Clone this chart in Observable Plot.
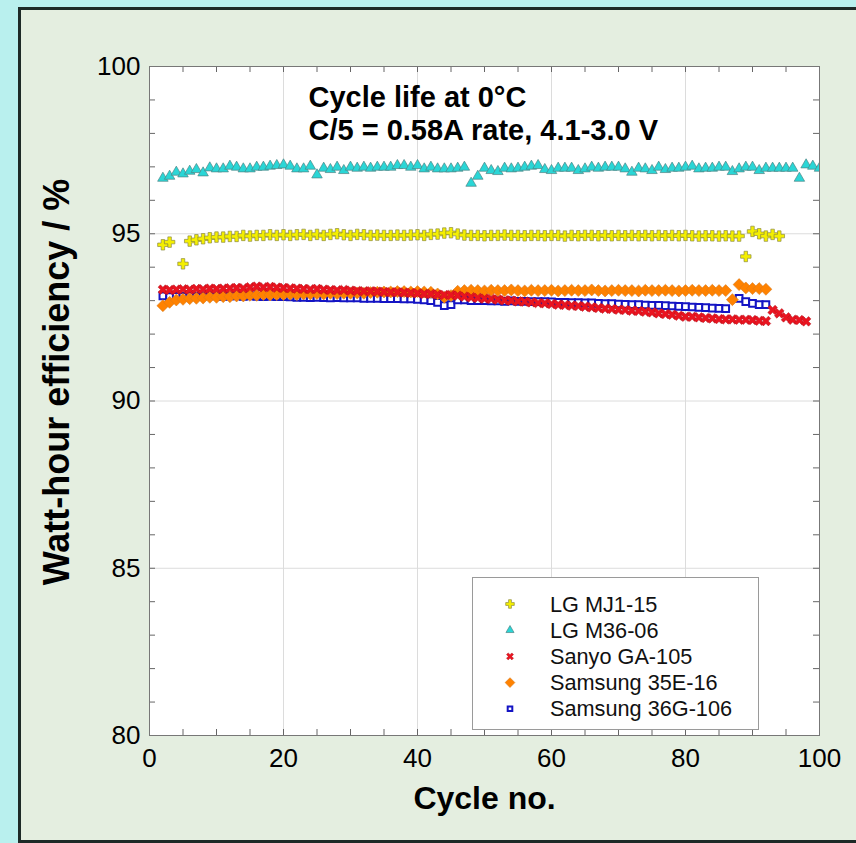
<!DOCTYPE html>
<html>
<head>
<meta charset="utf-8">
<script src="https://cdn.jsdelivr.net/npm/d3@7"></script>
<script src="https://cdn.jsdelivr.net/npm/@observablehq/plot@0.6"></script>
<style>
  html, body { margin: 0; padding: 0; }
  body {
    width: 856px; height: 843px; overflow: hidden; position: relative;
    background: #b9f0ee;
    font-family: "Liberation Sans", Arial, Helvetica, sans-serif;
  }
  #panel {
    position: absolute; left: 18px; top: 7px; width: 860px; height: 830px;
    background: #e4eee0; border: 3px solid #1d2a27;
  }
  #chart { position: absolute; left: 0; top: 0; }
  #legend { position: absolute; left: 472px; top: 577px; }
</style>
</head>
<body>
<div id="panel"></div>
<div id="chart"></div>
<div id="legend"></div>
<script>
// Cycle numbers 2..100; null where a cell has no reading for that cycle
const cycleNo = [
  2,3,4,5,6,7,8,9,10,11,12,13,14,15,16,17,18,19,20,21,22,23,24,25,26,27,28,29,30,31,
  32,33,34,35,36,37,38,39,40,41,42,43,44,45,46,47,48,49,50,51,52,53,54,55,56,57,58,59,60,61,
  62,63,64,65,66,67,68,69,70,71,72,73,74,75,76,77,78,79,80,81,82,83,84,85,86,87,88,89,90,91,
  92,93,94,95,96,97,98,99,100
];

// Watt-hour efficiency (%) per cycle
const lgMJ1_15 = [
  94.67,94.75,null,94.10,94.78,94.82,94.85,94.88,94.90,94.90,94.92,94.92,94.95,94.93,94.95,94.95,94.97,94.95,94.97,94.95,
  94.97,94.98,94.95,94.98,94.95,94.98,95.00,94.97,94.95,94.98,94.97,94.95,94.96,94.95,94.95,94.96,94.95,94.96,94.97,94.95,
  94.98,94.99,95.02,95.03,94.99,94.96,94.95,94.95,94.94,94.95,94.95,94.96,94.95,94.95,94.94,94.95,94.95,94.94,94.95,94.95,
  94.93,94.95,94.94,94.95,94.95,94.94,94.95,94.94,94.95,94.94,94.95,94.94,94.95,94.94,94.95,94.94,94.95,94.94,94.95,94.94,
  94.93,94.94,94.94,94.93,94.94,94.93,94.93,94.32,95.07,95.00,94.93,94.98,94.93,null,null,null,null,null,null
];
const lgM36_06 = [
  96.66,96.72,96.84,96.79,96.87,96.92,96.82,96.97,96.94,96.94,97.02,96.99,96.94,96.94,96.99,96.99,97.02,97.04,97.06,97.02,
  96.94,96.94,97.02,96.76,96.96,96.92,96.99,96.89,96.99,96.96,96.99,96.96,96.99,96.99,96.99,97.04,97.04,96.99,97.04,96.94,
  96.99,96.94,96.94,96.94,96.96,96.99,96.51,96.72,96.96,96.89,96.86,96.96,96.94,96.96,96.99,97.02,97.04,96.92,96.89,96.96,
  96.96,96.96,96.89,96.94,96.99,96.96,96.99,96.99,96.99,96.94,96.84,96.96,96.94,96.89,96.99,96.92,96.96,96.96,96.99,97.02,
  96.94,96.96,96.96,96.99,96.99,96.86,96.94,96.99,96.99,96.89,96.96,96.96,96.96,96.96,96.96,96.66,97.06,97.02,96.96
];
const sanyoGA105 = [
  93.33,93.32,93.33,93.34,93.33,93.35,93.34,93.36,93.35,93.36,93.37,93.38,93.37,93.40,93.42,93.40,93.41,93.39,93.38,93.37,
  93.36,93.35,93.34,93.35,93.33,93.32,93.31,93.32,93.30,93.29,93.28,93.28,93.27,93.26,93.25,93.25,93.24,93.23,93.22,93.20,
  93.20,93.18,93.17,93.17,93.15,93.12,93.10,93.08,93.06,93.05,93.03,93.01,93.00,92.98,92.97,92.95,92.93,92.92,92.90,92.88,
  92.87,92.85,92.84,92.82,92.80,92.78,92.76,92.75,92.73,92.72,92.70,92.69,92.67,92.65,92.62,92.60,92.58,92.55,92.52,92.52,
  92.50,92.48,92.47,92.45,92.44,92.44,92.43,92.43,92.42,92.40,92.39,92.72,92.62,92.50,92.43,92.42,92.38,null,null
];
const samsung35E_16 = [
  92.85,92.95,93.02,93.04,93.06,93.07,93.08,93.10,93.10,93.12,93.12,93.14,93.14,93.16,93.16,93.18,93.17,93.18,93.18,93.19,
  93.18,93.20,93.20,93.21,93.20,93.22,93.21,93.22,93.22,93.23,93.22,93.24,93.25,93.26,93.26,93.27,93.27,93.26,93.27,93.26,
  93.25,93.20,93.10,93.15,93.28,93.30,93.31,93.30,93.29,93.31,93.30,93.30,93.32,93.30,93.29,93.31,93.30,93.30,93.31,93.29,
  93.30,93.31,93.30,93.30,93.32,93.30,93.29,93.30,93.31,93.30,93.30,93.29,93.31,93.30,93.30,93.31,93.30,93.29,93.30,93.31,
  93.30,93.30,93.31,93.30,93.30,93.03,93.48,93.38,93.36,93.36,93.34,null,null,null,null,null,null,null,null
];
const samsung36G_106 = [
  93.14,93.12,93.13,93.13,93.14,93.13,93.14,93.15,93.14,93.13,93.14,93.14,93.13,93.14,93.13,93.12,93.13,93.12,93.12,93.11,
  93.10,93.10,93.09,93.10,93.09,93.08,93.09,93.08,93.08,93.08,93.07,93.07,93.07,93.06,93.06,93.06,93.05,93.05,93.04,93.02,
  93.00,92.95,92.85,92.88,93.02,93.02,93.00,93.00,93.00,92.99,92.99,92.98,92.99,92.98,92.98,92.97,92.97,92.97,92.96,92.95,
  92.95,92.94,92.94,92.93,92.93,92.92,92.91,92.91,92.90,92.89,92.88,92.88,92.87,92.86,92.86,92.85,92.84,92.83,92.82,92.81,
  92.80,92.79,92.78,92.77,92.76,null,93.07,92.97,92.92,92.88,92.88,null,null,null,null,null,null,null,null
];

const seriesNames = ["LG MJ1-15", "LG M36-06", "Sanyo GA-105", "Samsung 35E-16", "Samsung 36G-106"];
const titleLines = ["Cycle life at 0°C", "C/5 = 0.58A rate, 4.1-3.0 V"];
const xTitle = "Cycle no.";
const yTitle = "Watt-hour efficiency / %";
const xTickLabels = [0, 20, 40, 60, 80, 100];
const yTickLabels = [80, 85, 90, 95, 100];
const xMinorTicks = [0,5,10,15,20,25,30,35,40,45,50,55,60,65,70,75,80,85,90,95,100];
const yMinorTicks = [80,81,82,83,84,85,86,87,88,89,90,91,92,93,94,95,96,97,98,99,100];

// Filled "x" marker: a plus sign turned by 45 degrees
const symbolX = {
  draw(context, size) {
    const a = Math.sqrt(size) * 0.62, t = a * 0.32;
    const pts = [[-t,-a],[t,-a],[t,-t],[a,-t],[a,t],[t,t],[t,a],[-t,a],[-t,t],[-a,t],[-a,-t],[-t,-t]];
    const c = Math.SQRT1_2;
    pts.forEach(([x, y], i) => {
      const rx = (x - y) * c, ry = (x + y) * c;
      i ? context.lineTo(rx, ry) : context.moveTo(rx, ry);
    });
    context.closePath();
  }
};

const styles = {
  "LG MJ1-15":       {symbol: d3.symbolCross,    r: 4.4, fill: "#f4ef00", stroke: "#8d8b45", strokeWidth: 0.7},
  "LG M36-06":       {symbol: d3.symbolTriangle, r: 3.9, fill: "#2ad6d6", stroke: "#4d8585", strokeWidth: 0.7},
  "Sanyo GA-105":    {symbol: symbolX,           r: 4.7, fill: "#ea1420", stroke: "#b0101a", strokeWidth: 0.5},
  "Samsung 35E-16":  {symbol: d3.symbolDiamond2, r: 5.4, fill: "#ff8200", stroke: "#d97a1c", strokeWidth: 0.6},
  "Samsung 36G-106": {symbol: d3.symbolSquare,   r: 3.8, fill: "white",   stroke: "#1414c4", strokeWidth: 2}
};

const rows = (vals) => cycleNo.map((c, i) => ({cycle: c, wh: vals[i]})).filter(d => d.wh != null);
const seriesData = {
  "LG MJ1-15": rows(lgMJ1_15),
  "LG M36-06": rows(lgM36_06),
  "Sanyo GA-105": rows(sanyoGA105),
  "Samsung 35E-16": rows(samsung35E_16),
  "Samsung 36G-106": rows(samsung36G_106)
};

const width = 856, height = 843;
const mL = 149, mR = 37, mT = 66, mB = 108;
const frameW = width - mL - mR, frameH = height - mT - mB;
const tickLen = 6;

// Draw order: squares at the back, then diamonds, crosses, triangles, plus signs
const drawOrder = ["Samsung 36G-106", "Samsung 35E-16", "Sanyo GA-105", "LG M36-06", "LG MJ1-15"];

const chart = Plot.plot({
  width, height,
  marginLeft: mL, marginRight: mR, marginTop: mT, marginBottom: mB,
  style: {background: "transparent", fontFamily: "'Liberation Sans', Arial, Helvetica, sans-serif", color: "#000", overflow: "visible"},
  x: {domain: [0, 100]},
  y: {domain: [80, 100]},
  marks: [
    Plot.frame({fill: "white", stroke: null}),
    Plot.gridX(xTickLabels.slice(1, -1), {stroke: "#dcdcdc", strokeOpacity: 1, strokeWidth: 1}),
    Plot.gridY(yTickLabels.slice(1, -1), {stroke: "#dcdcdc", strokeOpacity: 1, strokeWidth: 1}),
    Plot.tickX(xMinorTicks, {x: d => d, insetTop: frameH - tickLen, stroke: "#666"}),
    Plot.tickX(xMinorTicks, {x: d => d, insetBottom: frameH - tickLen, stroke: "#666"}),
    Plot.tickY(yMinorTicks, {y: d => d, insetRight: frameW - tickLen, stroke: "#666"}),
    Plot.tickY(yMinorTicks, {y: d => d, insetLeft: frameW - tickLen, stroke: "#666"}),
    Plot.axisX(xTickLabels, {tickSize: 0, tickPadding: 13, fontSize: 26, label: null}),
    Plot.axisY(yTickLabels, {tickSize: 0, tickPadding: 9, fontSize: 26, label: null}),
    ...drawOrder.map(name => Plot.dot(seriesData[name], {x: "cycle", y: "wh", clip: true, ...styles[name]})),
    Plot.frame({stroke: "#777", strokeWidth: 1}),
    Plot.text([titleLines.join("\n")], {
      frameAnchor: "top-left", dx: 159, dy: 17, lineAnchor: "top", textAnchor: "start",
      fontSize: 29, fontWeight: "bold", lineHeight: 1.14, fill: "#000"
    }),
    Plot.text([xTitle], {frameAnchor: "bottom", dy: 73, fontSize: 32, fontWeight: "bold", fill: "#000"}),
    Plot.text([yTitle], {
      frameAnchor: "left", dx: -92, dy: -19, rotate: -90, textAnchor: "middle",
      fontSize: 36, fontWeight: "bold", fill: "#000"
    })
  ]
});
document.getElementById("chart").append(chart);

// Legend box with one marker and label per cell
const legW = 287, legH = 153;
const legend = d3.select("#legend").append("svg")
  .attr("width", legW).attr("height", legH)
  .style("font-family", "'Liberation Sans', Arial, Helvetica, sans-serif");
legend.append("rect").attr("x", 0.5).attr("y", 0.5).attr("width", legW - 1).attr("height", legH - 1)
  .attr("fill", "white").attr("stroke", "#9a9a9a");
const legendSize = {"LG MJ1-15": 3.6, "LG M36-06": 3.0, "Sanyo GA-105": 3.4, "Samsung 35E-16": 4.4, "Samsung 36G-106": 2.6};
seriesNames.forEach((name, i) => {
  const cy = 27 + i * 26.2;
  const s = styles[name];
  const r = legendSize[name];
  legend.append("path")
    .attr("transform", `translate(38,${cy})`)
    .attr("d", d3.symbol(s.symbol, Math.PI * r * r)())
    .attr("fill", s.fill).attr("stroke", s.stroke).attr("stroke-width", s.strokeWidth);
  legend.append("text").attr("x", 78).attr("y", cy + 7.5)
    .attr("font-size", 21.7).attr("fill", "#111").text(name);
});
</script>
</body>
</html>
